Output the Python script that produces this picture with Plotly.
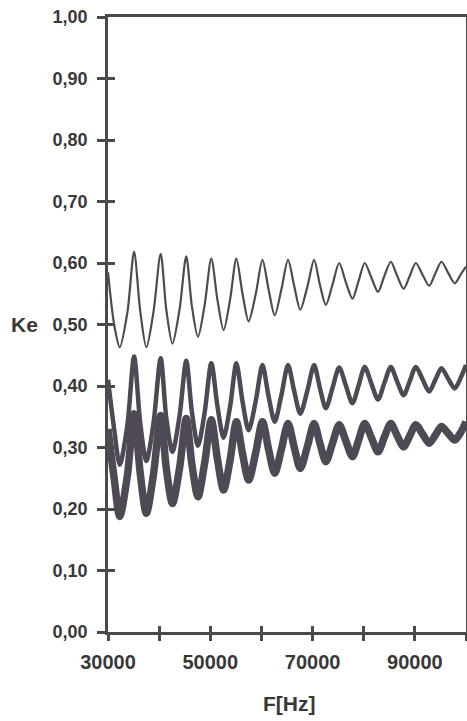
import plotly.graph_objects as go

# Frequency points (Hz): start, then per cycle trough / rising flank / peak / falling flank
freq_hz = [30000, 31200,
           32300, 33800, 35100, 36300,
           37500, 38900, 40300, 41400,
           42600, 44000, 45300, 46400,
           47600, 48900, 50200, 51400,
           52600, 53900, 55100, 56300,
           57500, 58900, 60200, 61400,
           62600, 63900, 65200, 66400,
           67600, 69000, 70300, 71400,
           72600, 73900, 75200, 76500,
           77800, 79000, 80200, 81500,
           82800, 84000, 85300, 86500,
           87800, 89000, 90200, 91500,
           92800, 94000, 95200, 96500,
           97800, 99000, 100000]

ke_upper = [0.585, 0.50,
            0.463, 0.520, 0.618, 0.522,
            0.463, 0.521, 0.615, 0.524,
            0.469, 0.525, 0.611, 0.530,
            0.480, 0.532, 0.607, 0.540,
            0.491, 0.542, 0.607, 0.550,
            0.505, 0.550, 0.605, 0.557,
            0.515, 0.557, 0.605, 0.563,
            0.524, 0.562, 0.605, 0.566,
            0.532, 0.565, 0.600, 0.569,
            0.542, 0.571, 0.600, 0.576,
            0.553, 0.578, 0.602, 0.580,
            0.558, 0.579, 0.600, 0.581,
            0.563, 0.583, 0.602, 0.584,
            0.567, 0.582, 0.594]

ke_middle = [0.41, 0.33,
             0.272, 0.337, 0.448, 0.340,
             0.278, 0.340, 0.445, 0.348,
             0.293, 0.352, 0.441, 0.358,
             0.303, 0.357, 0.437, 0.367,
             0.316, 0.368, 0.437, 0.375,
             0.328, 0.376, 0.434, 0.383,
             0.342, 0.385, 0.434, 0.392,
             0.355, 0.393, 0.434, 0.398,
             0.364, 0.397, 0.430, 0.401,
             0.372, 0.401, 0.431, 0.404,
             0.378, 0.404, 0.431, 0.408,
             0.385, 0.408, 0.431, 0.411,
             0.391, 0.410, 0.429, 0.412,
             0.396, 0.414, 0.434]

ke_lower = [0.33, 0.25,
            0.188, 0.255, 0.355, 0.258,
            0.193, 0.257, 0.352, 0.266,
            0.209, 0.267, 0.347, 0.273,
            0.220, 0.275, 0.345, 0.281,
            0.231, 0.281, 0.342, 0.290,
            0.247, 0.292, 0.342, 0.297,
            0.258, 0.297, 0.339, 0.301,
            0.266, 0.302, 0.339, 0.308,
            0.277, 0.307, 0.337, 0.311,
            0.285, 0.312, 0.339, 0.316,
            0.293, 0.316, 0.339, 0.320,
            0.301, 0.319, 0.337, 0.322,
            0.307, 0.320, 0.334, 0.323,
            0.312, 0.325, 0.342]

x_tickvals = [30000, 40000, 50000, 60000, 70000, 80000, 90000, 100000]
x_ticktext = ["30000", "", "50000", "", "70000", "", "90000", ""]
y_tickvals = [0.0, 0.1, 0.2, 0.3, 0.4, 0.5, 0.6, 0.7, 0.8, 0.9, 1.0]
y_ticktext = ["0,00", "0,10", "0,20", "0,30", "0,40", "0,50", "0,60", "0,70", "0,80", "0,90", "1,00"]

LINE = "#4e4954"
AX = "#4a4a4a"
TXT = "#383838"
FONT = "Liberation Sans, Arial, sans-serif"

fig = go.Figure()
for ys, w in [(ke_lower, 7.5), (ke_middle, 4.5), (ke_upper, 2.2)]:
    fig.add_trace(go.Scatter(x=freq_hz, y=ys, mode="lines",
                             line=dict(color=LINE, width=w, shape="spline", smoothing=0.8),
                             showlegend=False, hoverinfo="skip"))
# empty trace to host the overlay axes that draw the inner half of the crossing ticks
fig.add_trace(go.Scatter(x=[], y=[], xaxis="x2", yaxis="y2", showlegend=False))

fig.update_layout(
    width=467, height=721,
    margin=dict(l=108, r=1, t=17, b=89, autoexpand=False),
    paper_bgcolor="white", plot_bgcolor="white",
    font=dict(family=FONT, color=TXT),
    xaxis=dict(range=[30000, 100000], tickvals=x_tickvals, ticktext=x_ticktext,
               ticks="outside", ticklen=6, tickwidth=2.5, tickcolor=AX,
               showline=True, linewidth=2.5, linecolor=AX, mirror=True,
               showgrid=False, zeroline=False, ticklabelstandoff=4, automargin=False,
               ticklabeloverflow="allow",
               tickfont=dict(size=20, family=FONT, color=TXT, weight="bold")),
    yaxis=dict(range=[0, 1], tickvals=y_tickvals, ticktext=y_ticktext,
               ticks="outside", ticklen=8, tickwidth=2.5, tickcolor=AX,
               showline=True, linewidth=2.5, linecolor=AX, mirror=True,
               showgrid=False, zeroline=False, ticklabelstandoff=6, automargin=False,
               ticklabeloverflow="allow",
               tickfont=dict(size=18, family=FONT, color=TXT, weight="bold")),
    xaxis2=dict(range=[30000, 100000], tickvals=x_tickvals, overlaying="x", anchor="y2",
                ticks="inside", ticklen=6, tickwidth=2.5, tickcolor=AX, automargin=False,
                showticklabels=False, showline=False, showgrid=False, zeroline=False),
    yaxis2=dict(range=[0, 1], tickvals=y_tickvals, overlaying="y", anchor="x2", side="left",
                ticks="inside", ticklen=7, tickwidth=2.5, tickcolor=AX, automargin=False,
                showticklabels=False, showline=False, showgrid=False, zeroline=False),
    annotations=[
        dict(text="Ke", xref="paper", yref="y", x=-0.232, y=0.5, showarrow=False,
             xanchor="center", yanchor="middle",
             font=dict(size=21, family=FONT, color=TXT, weight="bold")),
        dict(text="F[Hz]", xref="paper", yref="paper", x=0.505, y=-0.117, showarrow=False,
             xanchor="center", yanchor="middle",
             font=dict(size=21, family=FONT, color=TXT, weight="bold")),
    ],
)

fig.write_html("out.html",
               config={"displayModeBar": False},
               post_script="document.body.style.margin='0';document.body.style.overflow='hidden';")
